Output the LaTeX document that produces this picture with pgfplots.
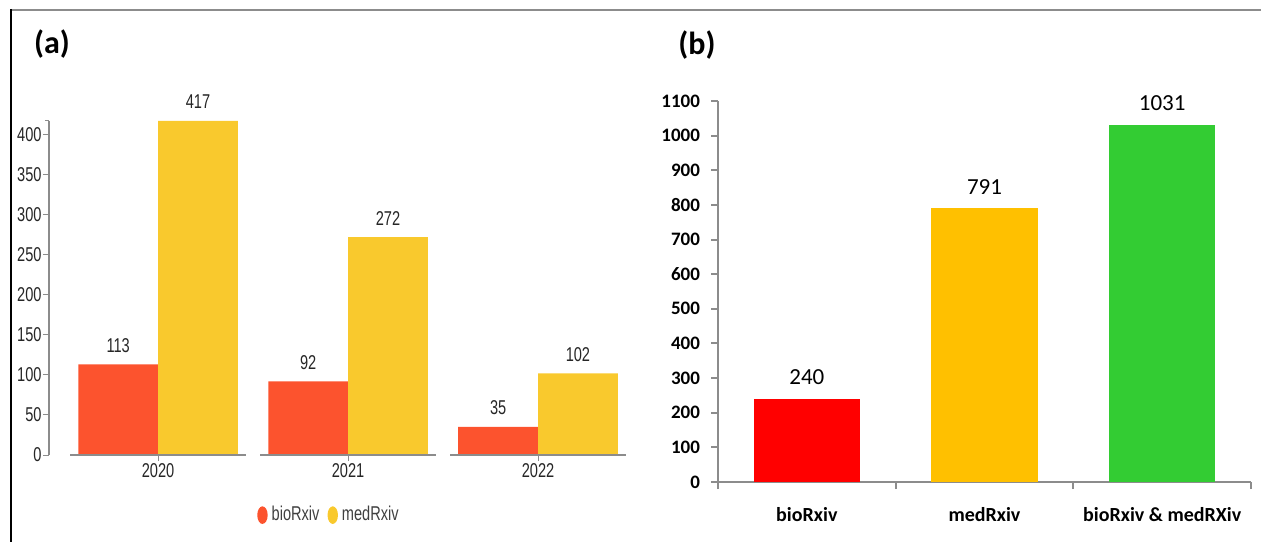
\documentclass[border=0pt]{standalone}
\usepackage{pgfplots}
\pgfplotsset{compat=1.18}
\usepackage{fontspec}
\setmainfont{Carlito}
\newfontfamily\narrow[FakeStretch=0.73]{Liberation Sans}
\definecolor{aRed}{HTML}{FC532E}
\definecolor{aYel}{HTML}{F9C92D}
\definecolor{bRed}{HTML}{FF0000}
\definecolor{bYel}{HTML}{FFC000}
\definecolor{bGrn}{HTML}{33CC33}
\definecolor{axgray}{HTML}{8C8C8C}
\begin{document}
\begin{tikzpicture}
\path[use as bounding box] (0,0) rectangle (630.5pt,271pt);
\draw[axgray, line width=1pt] (5.5pt,266pt) -- (630.5pt,266pt);
\draw[black, line width=0.8pt] (5.5pt,266.5pt) -- (5.5pt,0pt);
\node[font=\bfseries\fontsize{16}{16}\selectfont] at (26pt,249pt) {(a)};
\node[font=\bfseries\fontsize{16}{16}\selectfont] at (348.5pt,248.5pt) {(b)};
% ---------- panel (a)
\begin{axis}[
  at={(24.5pt,43.5pt)}, anchor=south west,
  scale only axis, width=288.5pt, height=167pt,
  xmin=-0.574, xmax=2.463, ymin=0, ymax=417,
  axis x line=bottom, axis y line=left,
  axis line style={-}, x axis line style={draw=none},
  y axis line style={axgray, line width=0.6pt},
  ytick={0,50,...,400},
  extra y ticks={417}, extra y tick labels={},
  extra y tick style={major tick length=2pt},
  xtick={0,1,2}, xticklabels={2020,2021,2022},
  tick align=outside, major tick length=3pt,
  xtick style={axgray, line width=0.5pt},
  ytick style={axgray, line width=0.5pt},
  /pgf/number format/assume math mode=true,
  /pgf/number format/1000 sep={},
  ticklabel style={font=\narrow\fontsize{10}{10}\selectfont, text=black!85},
  yticklabel style={inner sep=0.5pt},
  xticklabel style={inner sep=2pt, yshift=1pt},
  ybar, bar width=0.42,
  nodes near coords,
  every node near coord/.append style={font=\narrow\fontsize{10}{10}\selectfont, text=black!85, anchor=base, yshift=6pt, inner sep=0pt},
  legend columns=2,
  legend style={at={(0.487,-0.18)}, anchor=center, draw=none, fill=none,
    font=\narrow\fontsize{10}{10}\selectfont, text=black!75,
    /tikz/every even column/.append style={column sep=2pt}},
  legend image code/.code={\fill[#1] (0.15cm,0) ellipse[x radius=2.6pt, y radius=4.4pt];},
]
\addplot[fill=aRed, draw=none, bar shift=-0.21] coordinates {(0,113) (1,92) (2,35)};
\addplot[fill=aYel, draw=none, bar shift=0.21] coordinates {(0,417) (1,272) (2,102)};
\legend{bioRxiv, medRxiv}
\draw[axgray, line width=0.6pt] (axis cs:-0.463,0) -- (axis cs:0.463,0);
\draw[axgray, line width=0.6pt] (axis cs:0.537,0) -- (axis cs:1.463,0);
\draw[axgray, line width=0.6pt] (axis cs:1.537,0) -- (axis cs:2.463,0);
\end{axis}
% ---------- panel (b)
\begin{axis}[
  at={(359pt,30pt)}, anchor=south west,
  scale only axis, width=266.5pt, height=190.5pt,
  xmin=-0.5, xmax=2.5, ymin=0, ymax=1100,
  axis x line=bottom, axis y line=left,
  axis line style={-, axgray, line width=1pt},
  ytick={0,100,...,1100},
  xtick={-0.5,0.5,1.5,2.5}, xticklabels={},
  extra x ticks={0,1,2},
  extra x tick labels={bioRxiv, medRxiv, bioRxiv \& medRXiv},
  extra x tick style={major tick length=0pt,
    xticklabel style={font=\bfseries\fontsize{10}{10}\selectfont, text=black, yshift=-9pt}},
  tick align=outside, major tick length=3.5pt,
  tick style={axgray, line width=1pt},
  /pgf/number format/assume math mode=true,
  /pgf/number format/1000 sep={},
  yticklabel style={font=\bfseries\fontsize{9.5}{9.5}\selectfont, text=black, xshift=-2pt},
  ybar, bar width=0.597, bar shift=0pt,
  nodes near coords,
  every node near coord/.append style={font=\fontsize{11.5}{11.5}\selectfont, text=black, anchor=base, yshift=7pt, inner sep=0pt},
]
\addplot[fill=bRed, draw=none] coordinates {(0,240)};
\addplot[fill=bYel, draw=none] coordinates {(1,791)};
\addplot[fill=bGrn, draw=none] coordinates {(2,1031)};
\end{axis}
\end{tikzpicture}
\end{document}
